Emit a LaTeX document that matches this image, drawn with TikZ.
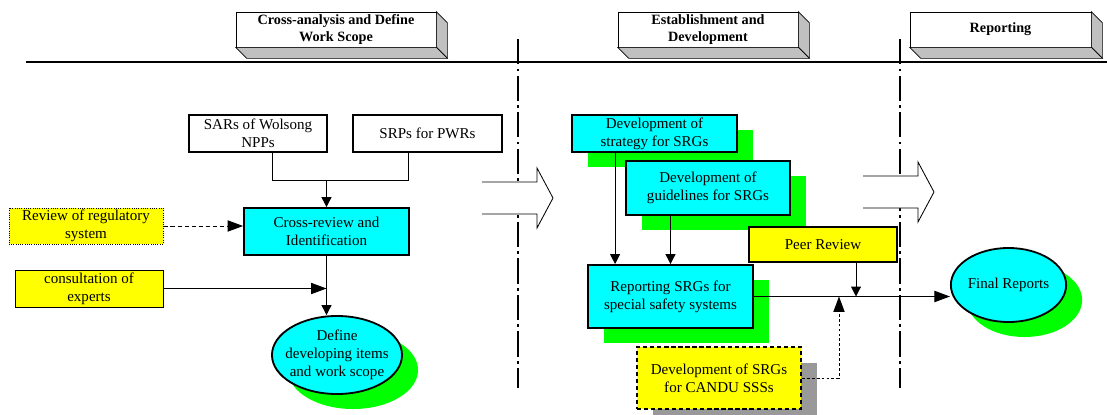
\documentclass[tikz,border=0pt]{standalone}
\usepackage{fontspec}
\setmainfont{Liberation Serif}
\usepackage{tikz}
\usetikzlibrary{arrows.meta, shapes.geometric, shadows}

\definecolor{boxcyan}{RGB}{0,255,255}
\definecolor{shadegreen}{RGB}{0,255,0}
\definecolor{noteyellow}{RGB}{255,255,0}
\definecolor{shadegray}{RGB}{153,153,153}
\definecolor{facegray}{RGB}{192,192,192}

\begin{document}
\begin{tikzpicture}[x=0.025cm, y=-0.025cm, >={Triangle[length=7pt,width=7pt]},
    every node/.style={font=\fontsize{10.7}{12.6}\selectfont, align=center, inner sep=1pt},
    greenshade/.style={drop shadow={shadow xshift=0.4cm, shadow yshift=-0.375cm, fill=shadegreen, opacity=1}},
    inbox/.style={draw, line width=1.3pt, fill=white},
    task/.style={draw, line width=1.3pt, fill=boxcyan, greenshade},
    note/.style={draw, line width=0.6pt, fill=noteyellow},
    goal/.style={ellipse, draw, line width=1.3pt, fill=boxcyan, greenshade, inner sep=0pt},
    header/.style={draw, line width=0.5pt, fill=white, font=\bfseries\fontsize{10.1}{12.6}\selectfont},
    phaseline/.style={line width=0.8pt, dash pattern=on 18pt off 3pt on 2pt off 3pt},
    link/.style={line width=0.7pt},
    bigarrow/.style={-{Triangle[length=11pt,width=8pt]}}]
    \useasboundingbox (0,0) rectangle (1107,415);

    % phase headers
    \node[header, minimum width=5cm, minimum height=0.875cm] (crossphase) at (336,29.5) {Cross-analysis and Define\\Work Scope};
    \node[header, minimum width=4.5cm, minimum height=0.875cm] (devphase) at (708,29.5) {Establishment and\\Development};
    \node[header, minimum width=4.525cm, minimum height=0.875cm] (repphase) at (1000.5,29.5) {Reporting};
    \foreach \h in {crossphase,devphase,repphase} {
        \filldraw[fill=facegray, line width=0.5pt] (\h.north east) -- ++(11,11) -- ([shift={(11,11)}]\h.south east) -- (\h.south east) -- cycle;
        \filldraw[fill=facegray, line width=0.5pt] (\h.south west) -- ++(11,11) -- ([shift={(11,11)}]\h.south east) -- (\h.south east) -- cycle;
    }
    \draw[line width=0.8pt] (26,62) -- (1107,62);

    \foreach \x in {518,900}
        \draw[phaseline] (\x,39) -- (\x,388);

    % hollow phase arrows
    \foreach \ax/\ay in {482/198, 863/192} {
        \fill[white] (\ax,\ay) ++(0,-16) -- ++(55,0) -- ++(0,-14) -- ++(16,30) -- ++(-16,30) -- ++(0,-14) -- ++(-55,0) -- cycle;
        \draw[line width=0.6pt] (\ax,\ay) ++(0,-16) -- ++(55,0) -- ++(0,-14) -- ++(16,30) -- ++(-16,30) -- ++(0,-14) -- ++(-55,0);
    }

    % cross-analysis
    \node[inbox, minimum width=3.45cm, minimum height=0.925cm] (sars) at (258,133.5) {SARs of Wolsong\\NPPs};
    \node[inbox, minimum width=3.725cm, minimum height=0.925cm] (srps) at (427.5,133.5) {SRPs for PWRs};
    \node[draw, line width=1.3pt, fill=boxcyan, minimum width=4.125cm, minimum height=1.175cm] (crossrev) at (326.5,231.5) {Cross-review and\\Identification};
    \node[note, densely dotted, minimum width=3.85cm, minimum height=0.9cm] (regsys) at (86,226) {Review of regulatory\\system};
    \node[note, minimum width=3.7cm, minimum height=0.925cm] (consult) at (89,288.5) {consultation of\\experts};
    \node[goal, inner xsep=-4pt, minimum width=3.25cm, minimum height=1.95cm] (scope) at (337,355) {Define\\developing items\\and work scope};

    % establishment
    \node[task, minimum width=4.125cm, minimum height=0.925cm] (strategy) at (654.5,133.5) {Development of\\strategy for SRGs};
    \node[task, minimum width=4.1cm, minimum height=1.35cm] (guide) at (708,188) {Development of\\guidelines for SRGs};
    \node[note, line width=1pt, minimum width=3.7cm, minimum height=0.875cm] (peer) at (823,244.5) {Peer Review};
    \node[task, minimum width=4.125cm, minimum height=1.575cm] (special) at (670.5,296.5) {Reporting SRGs for\\special safety systems};
    \node[draw, line width=1.3pt, dash pattern=on 3pt off 2pt, fill=noteyellow, minimum width=4.1cm, minimum height=1.55cm,
        drop shadow={shadow xshift=0.4cm, shadow yshift=-0.4cm, fill=shadegray, opacity=1, solid}] (candu) at (719,378) {Development of SRGs\\for CANDU SSSs};
    \node[goal, minimum width=2.725cm, minimum height=1.85cm] (final) at (1008.5,285) {Final Reports};

    \coordinate (sarsjoin) at (272,180);
    \coordinate (srpsjoin) at (408,180);
    \coordinate (canduup) at (839,296.5);

    \draw[link] (sars.south -| sarsjoin) -- (sarsjoin) -- (srpsjoin) -- (srps.south -| srpsjoin);
    \draw[link, ->] (crossrev.north |- sarsjoin) -- (crossrev.north);
    \draw[link, bigarrow, dash pattern=on 3pt off 2pt] (regsys.east) -- (regsys.east -| crossrev.west);
    \draw[link, ->] (crossrev.south) -- (crossrev.south |- scope.north);
    \draw[link, bigarrow] (consult.east) -- (consult.east -| crossrev.south);

    \draw[link, ->] ([xshift=1.1cm]strategy.south west) -- ([xshift=1.1cm]strategy.south west |- special.north);
    \draw[link, ->] (guide.south -| special.north) -- (special.north);
    \draw[link, ->] ([xshift=0.825cm]peer.south) -- ([xshift=0.825cm]peer.south |- special.east);
    \draw[link, bigarrow] (special.east) -- (special.east -| final.west);
    \draw[link, bigarrow, dash pattern=on 2pt off 1.5pt] (candu.east) -| (canduup);

\end{tikzpicture}
\end{document}
